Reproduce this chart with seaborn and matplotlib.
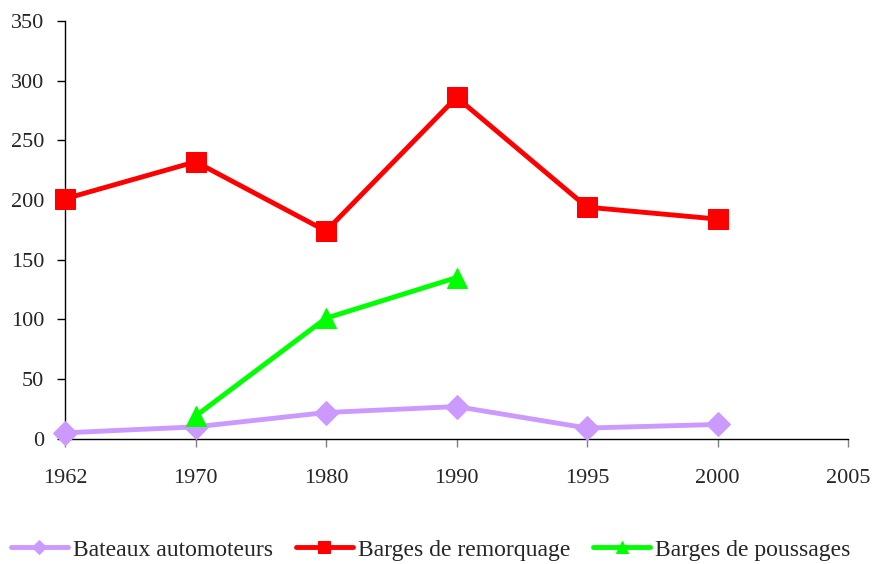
import numpy as np
import pandas as pd
import seaborn as sns
from matplotlib import pyplot as plt

years = ["1962", "1970", "1980", "1990", "1995", "2000", "2005"]
bateaux = [5, 10, 22, 27, 9, 12, np.nan]
remorquage = [201, 232, 174, 286, 194, 184, np.nan]
poussages = [np.nan, 19, 101, 135, np.nan, np.nan, np.nan]

series = [
    ("Bateaux automoteurs", bateaux, "#cc99ff", "D", 12),
    ("Barges de remorquage", remorquage, "#ff0000", "s", 14),
    ("Barges de poussages", poussages, "#00ff00", "^", 15),
]

sns.set_style("ticks")
plt.rcParams['font.family'] = ['Liberation Serif', 'DejaVu Serif']

fig = plt.figure(figsize=(8.75, 5.64), dpi=100)
ax = fig.add_axes([0.0743, 0.222, 0.8949, 0.741])

pos = np.arange(len(years))
for name, vals, color, marker, ms in series:
    df = pd.DataFrame({"x": pos, "y": vals}).dropna()
    sns.lineplot(data=df, x="x", y="y", ax=ax, color=color, linewidth=3.5,
                 marker=marker, markersize=ms, markeredgecolor=color,
                 label=name, clip_on=False, zorder=3)

ax.set_xlim(0, len(years) - 1)
ax.set_ylim(0, 350)
ax.set_yticks(range(0, 351, 50))
ax.set_xticks(pos)
ax.set_xticklabels(years)
ax.set_xlabel("")
ax.set_ylabel("")
ax.tick_params(axis="both", labelsize=16, length=6, width=1)
ax.tick_params(axis="x", pad=16, color="#808080")
ax.tick_params(axis="y", pad=9, color="black")
sns.despine(ax=ax)
for s in ["left", "bottom"]:
    ax.spines[s].set_linewidth(1)
    ax.spines[s].set_color("black")

leg = ax.legend(loc="center", bbox_to_anchor=(0.467, -0.266), ncol=3, frameon=False,
                fontsize=17, handlelength=2.4, handletextpad=0.2, columnspacing=1.0,
                markerscale=0.62)

fig.savefig("out.png", dpi=100)
